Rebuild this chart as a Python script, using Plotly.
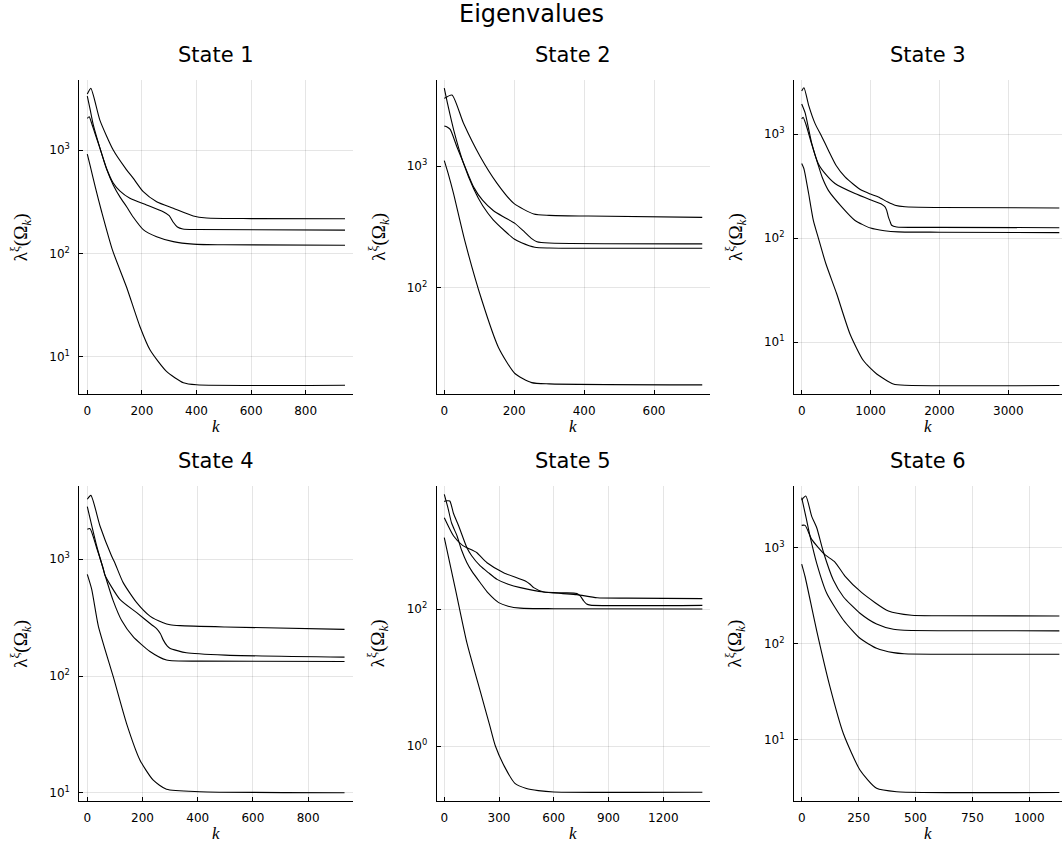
import plotly.graph_objects as go

W, H = 1062, 851

# ---------------- data (k, eigenvalue) ----------------
# State 1
s1_a_k = [0, 13, 46, 95, 140, 168, 205, 254, 315, 388, 437, 600, 944]
s1_a_v = [3480, 3950, 1950, 1000, 665, 535, 395, 316, 273, 230, 220, 217, 216]
s1_b_k = [0, 10, 22, 46, 71, 95, 120, 144, 168, 205, 254, 315, 388, 500, 944]
s1_b_v = [3330, 2500, 1750, 1050, 650, 460, 350, 283, 225, 170, 145, 130, 123, 121, 120]
s1_c_k = [0, 7, 15, 28, 46, 71, 95, 120, 156, 217, 278, 300, 315, 330, 350, 400, 944]
s1_c_v = [2030, 2100, 1850, 1450, 1050, 660, 480, 400, 341, 294, 253, 232, 200, 180, 172, 170, 168]
s1_d_k = [0, 10, 30, 53, 92, 144, 193, 230, 290, 352, 400, 944]
s1_d_v = [915, 716, 430, 250, 108, 47, 19.5, 11.6, 7.2, 5.6, 5.35, 5.3]

# State 2
s2_a_k = [0, 22, 55, 103, 151, 199, 256, 300, 412, 738]
s2_a_v = [3610, 3850, 2250, 1193, 720, 492, 402, 392, 387, 377]
s2_b_k = [0, 10, 27, 55, 84, 110, 140, 174, 200, 221, 259, 300, 738]
s2_b_v = [4380, 3200, 1980, 1052, 650, 470, 360, 290, 250, 233, 214, 211, 210]
s2_c_k = [0, 8, 17, 36, 55, 84, 110, 140, 170, 202, 230, 250, 265, 300, 738]
s2_c_v = [2140, 2100, 2005, 1443, 1060, 670, 520, 430, 380, 337, 285, 252, 238, 232, 228]
s2_d_k = [0, 13, 26, 59, 107, 155, 202, 250, 300, 738]
s2_d_v = [1106, 830, 600, 240, 79, 32, 19.5, 16.4, 16, 15.7]

# State 3
s3_a_k = [0, 33, 100, 193, 290, 387, 500, 629, 750, 871, 1000, 1113, 1250, 1355, 1500, 2000, 3740]
s3_a_v = [2600, 2790, 1900, 1268, 950, 701, 500, 388, 330, 288, 265, 249, 222, 207, 200, 197, 195]
s3_b_k = [0, 50, 145, 241, 350, 483, 774, 1016, 1161, 1210, 1234, 1258, 1282, 1306, 1379, 2000, 3740]
s3_b_v = [1950, 1600, 820, 520, 410, 335, 268, 231, 212, 200, 185, 160, 145, 133, 128, 127, 126]
s3_c_k = [0, 20, 60, 145, 241, 300, 387, 581, 774, 1000, 1200, 1400, 2000, 3740]
s3_c_v = [1400, 1450, 1250, 800, 500, 380, 288, 200, 148, 125, 118, 115, 114, 113]
s3_d_k = [0, 30, 48, 100, 169, 242, 350, 508, 701, 895, 1089, 1330, 1500, 3740]
s3_d_v = [522, 470, 418, 270, 148, 100, 57, 29.2, 12, 6.66, 4.95, 3.97, 3.85, 3.83]

# State 4
s4_a_k = [0, 13, 46, 88, 100, 130, 179, 227, 275, 300, 336, 500, 932]
s4_a_v = [3270, 3530, 1930, 1067, 930, 631, 425, 326, 286, 275, 270, 263, 251]
s4_b_k = [0, 34, 58, 70, 94, 124, 166, 227, 287, 408, 932]
s4_b_v = [2825, 1300, 820, 660, 440, 300, 217, 162, 137, 134, 133]
s4_c_k = [0, 10, 34, 58, 64, 118, 179, 233, 251, 265, 275, 290, 299, 359, 500, 932]
s4_c_v = [1807, 1830, 1250, 830, 730, 454, 349, 275, 255, 230, 204, 180, 173, 158, 151, 145]
s4_d_k = [0, 16, 40, 94, 142, 191, 239, 287, 408, 932]
s4_d_v = [743, 553, 268, 98.6, 39.3, 19, 12.8, 10.7, 10.2, 10.0]

# State 5
s5_a_k = [0, 20, 40, 70, 95, 124, 150, 197, 241, 298, 350, 417, 600, 1414]
s5_a_v = [4720, 3000, 1800, 1164, 720, 474, 360, 242, 170, 124, 110, 103, 101, 100]
s5_b_k = [0, 5, 30, 50, 79, 124, 150, 197, 241, 289, 350, 417, 545, 650, 727, 745, 764, 780, 800, 1414]
s5_b_v = [3700, 3780, 3780, 2500, 1630, 785, 600, 425, 340, 271, 230, 205, 177, 172, 169, 155, 131, 118, 114, 113]
s5_c_k = [0, 51, 100, 124, 179, 200, 234, 325, 444, 470, 490, 545, 650, 727, 837, 1000, 1414]
s5_c_v = [2150, 1164, 850, 785, 664, 580, 474, 339, 256, 230, 205, 177, 168, 162, 146, 144, 142]
s5_d_k = [0, 62, 124, 200, 250, 280, 330, 387, 450, 515, 600, 1414]
s5_d_v = [1100, 189, 32, 5.9, 1.95, 1.0, 0.5, 0.285, 0.24, 0.223, 0.213, 0.211]

# State 6
s6_a_k = [0, 18, 44, 66, 95, 139, 183, 256, 329, 403, 450, 1132]
s6_a_v = [3110, 3420, 2100, 1600, 900, 457, 306, 206, 159, 140, 137, 135]
s6_b_k = [0, 20, 37, 66, 110, 183, 256, 329, 403, 450, 1132]
s6_b_v = [3300, 2000, 1291, 681, 332, 175, 113, 89, 80, 78, 77]
s6_c_k = [0, 15, 44, 102, 146, 190, 264, 381, 483, 600, 1132]
s6_c_v = [1694, 1694, 1211, 838, 703, 502, 337, 217, 196, 194, 193]
s6_d_k = [0, 15, 66, 124, 183, 256, 329, 417, 1132]
s6_d_v = [670, 494, 135, 35.4, 11.5, 4.8, 3.09, 2.85, 2.8]

titles = ["State 1", "State 2", "State 3", "State 4", "State 5", "State 6"]
curves = [
    [(s1_a_k, s1_a_v), (s1_b_k, s1_b_v), (s1_c_k, s1_c_v), (s1_d_k, s1_d_v)],
    [(s2_a_k, s2_a_v), (s2_b_k, s2_b_v), (s2_c_k, s2_c_v), (s2_d_k, s2_d_v)],
    [(s3_a_k, s3_a_v), (s3_b_k, s3_b_v), (s3_c_k, s3_c_v), (s3_d_k, s3_d_v)],
    [(s4_a_k, s4_a_v), (s4_b_k, s4_b_v), (s4_c_k, s4_c_v), (s4_d_k, s4_d_v)],
    [(s5_a_k, s5_a_v), (s5_b_k, s5_b_v), (s5_c_k, s5_c_v), (s5_d_k, s5_d_v)],
    [(s6_a_k, s6_a_v), (s6_b_k, s6_b_v), (s6_c_k, s6_c_v), (s6_d_k, s6_d_v)],
]
x_ticks = [[0, 200, 400, 600, 800], [0, 200, 400, 600], [0, 1000, 2000, 3000],
           [0, 200, 400, 600, 800], [0, 300, 600, 900, 1200], [0, 250, 500, 750, 1000]]
y_ticks = [[10, 100, 1000], [100, 1000], [10, 100, 1000],
           [10, 100, 1000], [1, 100], [10, 100, 1000]]
y_tick_text = [["10<sup>1</sup>", "10<sup>2</sup>", "10<sup>3</sup>"],
               ["10<sup>2</sup>", "10<sup>3</sup>"],
               ["10<sup>1</sup>", "10<sup>2</sup>", "10<sup>3</sup>"],
               ["10<sup>1</sup>", "10<sup>2</sup>", "10<sup>3</sup>"],
               ["10<sup>0</sup>", "10<sup>2</sup>"],
               ["10<sup>1</sup>", "10<sup>2</sup>", "10<sup>3</sup>"]]

# ---------------- layout (pixel geometry) ----------------
x_px = [(79.3, 352.7), (436.7, 710.0), (794.0, 1062.0)]
y_px = [(80.0, 394.0), (486.0, 801.0)]
x_ranges = [[-29.3, 972.2], [-21.7, 760.2], [-111.8, 3779.0],
            [-29.0, 961.6], [-41.6, 1455.9], [-33.8, 1143.6]]
y_ranges = [[0.639, 3.678], [1.121, 3.709], [0.502, 3.520],
            [0.929, 3.628], [-0.803, 3.796], [0.358, 3.639]]

fig = go.Figure()
layout = dict(
    width=W, height=H, margin=dict(l=0, r=0, t=0, b=0),
    paper_bgcolor="white", plot_bgcolor="white", showlegend=False,
    font=dict(family="DejaVu Sans", color="black"),
)
annotations = []
for i in range(6):
    r, c = divmod(i, 3)
    x0, x1 = x_px[c]
    y0, y1 = y_px[r]
    xa = "xaxis" if i == 0 else f"xaxis{i+1}"
    ya = "yaxis" if i == 0 else f"yaxis{i+1}"
    xref = "x" if i == 0 else f"x{i+1}"
    yref = "y" if i == 0 else f"y{i+1}"
    for kk, vv in curves[i]:
        fig.add_trace(go.Scatter(x=kk, y=vv, mode="lines", xaxis=xref, yaxis=yref,
                                 line=dict(color="black", width=1.1, shape="spline", smoothing=0.6),
                                 hoverinfo="skip"))
    layout[xa] = dict(domain=[x0 / W, x1 / W], anchor=yref, range=x_ranges[i],
                      tickvals=x_ticks[i], showgrid=True, gridcolor="rgba(0,0,0,0.1)", gridwidth=1,
                      zeroline=False, showline=True, linecolor="black", linewidth=1,
                      ticks="inside", ticklen=4, tickcolor="black", mirror=False,
                      ticklabelstandoff=6,
                      tickfont=dict(size=12, family="DejaVu Sans", color="black"))
    layout[ya] = dict(domain=[1 - y1 / H, 1 - y0 / H], anchor=xref, type="log", range=y_ranges[i],
                      tickvals=y_ticks[i], ticktext=y_tick_text[i],
                      showgrid=True, gridcolor="rgba(0,0,0,0.1)", gridwidth=1,
                      zeroline=False, showline=True, linecolor="black", linewidth=1,
                      ticks="inside", ticklen=4, tickcolor="black", mirror=False,
                      ticklabelstandoff=6,
                      tickfont=dict(size=12, family="DejaVu Sans", color="black"))
    # subplot title
    annotations.append(dict(text=titles[i], xref="paper", yref="paper",
                            x=(x0 + x1) / 2 / W, y=1 - (y0 - 25) / H,
                            xanchor="center", yanchor="middle", showarrow=False,
                            font=dict(size=21, family="DejaVu Sans", color="black")))
    # x label
    annotations.append(dict(text="<i>k</i>", xref="paper", yref="paper",
                            x=(x0 + x1) / 2 / W, y=1 - (y1 + 32) / H,
                            xanchor="center", yanchor="middle", showarrow=False,
                            font=dict(size=17, family="Liberation Serif", color="black")))
    # y label
    annotations.append(dict(text="λ<sup>ξ</sup>(Ω<sub><i>k</i></sub>)", xref="paper", yref="paper",
                            x=(x0 - 59) / W, y=1 - ((y0 + y1) / 2) / H, textangle=-90,
                            xanchor="center", yanchor="middle", showarrow=False,
                            font=dict(size=19, family="Liberation Serif", color="black")))

annotations.append(dict(text="Eigenvalues", xref="paper", yref="paper", x=531 / W, y=1 - 14 / H,
                        xanchor="center", yanchor="middle", showarrow=False,
                        font=dict(size=24, family="DejaVu Sans", color="black")))
layout["annotations"] = annotations
fig.update_layout(**layout)
fig.write_html("out.html")
